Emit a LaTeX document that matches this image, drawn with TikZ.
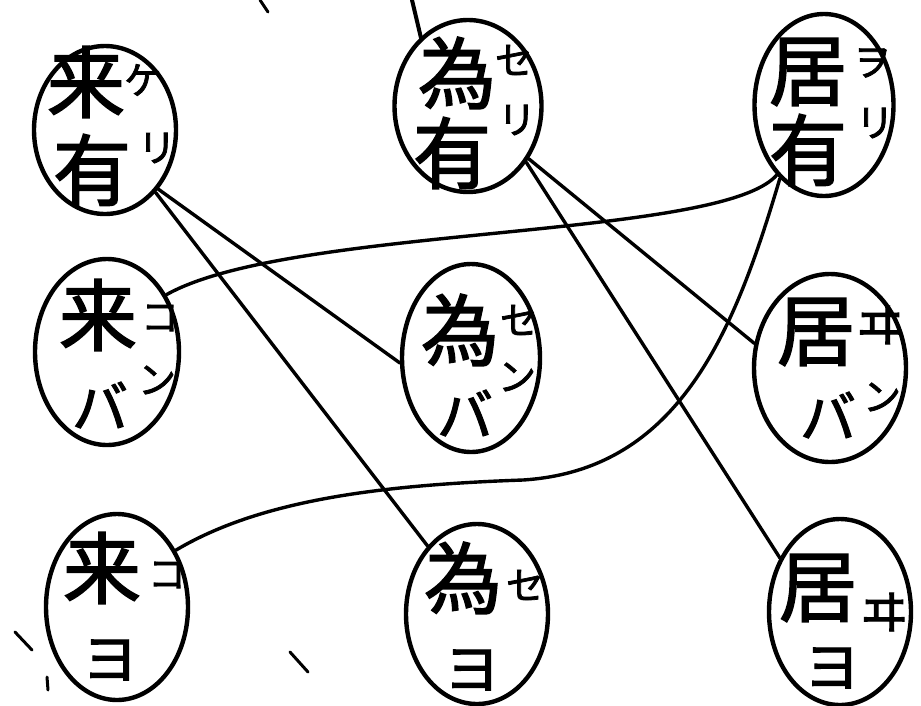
\documentclass[tikz,border=0pt]{standalone}
\usepackage{fontspec}
\newfontfamily\jp[FakeBold=2]{Noto Sans CJK JP}
\usetikzlibrary{shapes.geometric}
\tikzset{
  oval/.style={draw=black, ellipse, line width=4.4pt, inner sep=0pt},
  bigk/.style={font=\jp\fontsize{78}{78}\selectfont, inner sep=0pt},
  midk/.style={font=\jp\fontsize{56}{56}\selectfont, inner sep=0pt},
  smallk/.style={font=\jp\fontsize{38}{38}\selectfont, inner sep=0pt},
  wik/.style={font=\jp\fontsize{48}{48}\selectfont, inner sep=0pt},
  link/.style={line width=3.4pt, line cap=round},
  stray/.style={line width=3pt, line cap=round}
}
\begin{document}
\begin{tikzpicture}[x=1pt,y=-1pt]
\useasboundingbox (0,0) rectangle (921,705);
% ellipses
\node[oval, minimum width=142pt, minimum height=168pt] (ly) at (105,130) {};
\node[oval, minimum width=147pt, minimum height=172pt] (wy) at (468,106) {};
\node[oval, minimum width=139pt, minimum height=182pt] (jy) at (824,105) {};
\node[oval, minimum width=144pt, minimum height=186pt] (lb) at (107,352) {};
\node[oval, minimum width=138pt, minimum height=188pt] (wb) at (471,358) {};
\node[oval, minimum width=152pt, minimum height=188pt] (jb) at (830,368) {};
\node[oval, minimum width=142pt, minimum height=186pt] (lo) at (117,607) {};
\node[oval, minimum width=142pt, minimum height=180pt] (wo) at (477,614) {};
\node[oval, minimum width=142pt, minimum height=186pt] (jo) at (840,612) {};
% texts row 1
\node[bigk] (ly1) at (86,82) {来};
\node[bigk] (ly2) at (92,170) {有};
\node[smallk] (ly3) at (143,80) {ケ};
\node[smallk] (ly4) at (157,148) {リ};
\node[bigk] (wy1) at (457,73) {為};
\node[bigk] (wy2) at (452,153) {有};
\node[smallk] (wy3) at (514,60) {セ};
\node[smallk] (wy4) at (517,120) {リ};
\node[bigk] (jy1) at (808,72) {居};
\node[bigk] (jy2) at (808,150) {有};
\node[smallk] (jy3) at (872,63) {ヲ};
\node[smallk] (jy4) at (875,123) {リ};
% row 2
\node[bigk] (lb1) at (98,315) {来};
\node[smallk] (lb2) at (160,318) {コ};
\node[smallk] (lb3) at (157,380) {ン};
\node[midk] (lb4) at (100,405) {バ};
\node[bigk] (wb1) at (460,330) {為};
\node[smallk] (wb2) at (519,320) {セ};
\node[smallk] (wb3) at (517,377) {ン};
\node[midk] (wb4) at (465,413) {バ};
\node[bigk] (jb1) at (816,332) {居};
\node[wik] (jb2) at (880,325) {ヰ};
\node[smallk] (jb3) at (882,397) {ン};
\node[midk] (jb4) at (828,415) {バ};
% row 3
\node[bigk] (lo1) at (102,568) {来};
\node[smallk] (lo2) at (167,575) {コ};
\node[midk] (lo3) at (110,660) {ヨ};
\node[bigk] (wo1) at (463,578) {為};
\node[smallk] (wo2) at (525,585) {セ};
\node[midk] (wo3) at (472,670) {ヨ};
\node[bigk] (jo1) at (818,588) {居};
\node[wik] (jo2) at (884,612) {ヰ};
\node[midk] (jo3) at (832,668) {ヨ};
% connectors
\coordinate (dmid) at (523,480);
\draw[link] (ly.-48) -- (wb.-176);
\draw[link] (ly.-51) -- (wo.126);
\draw[link] (wy.-44) -- (jo.138);
\draw[link] (wy.-41) -- (jb.162);
\draw[link] (lb.44) .. controls (290,225) and (720,240) .. (jy.-124);
\draw[link] (jy.-121) .. controls (735,330) and (680,470) .. (dmid)
            .. controls (380,485) and (260,500) .. (lo.44);
% stray marks
\draw[stray] (260,0) -- (268,12);
\draw[stray, line width=4pt] (412,0) -- (421,38);
\draw[stray] (15,632) -- (32,650);
\draw[stray] (47,677) -- (48,690);
\draw[stray] (290,652) -- (308,672);
\end{tikzpicture}
\end{document}
